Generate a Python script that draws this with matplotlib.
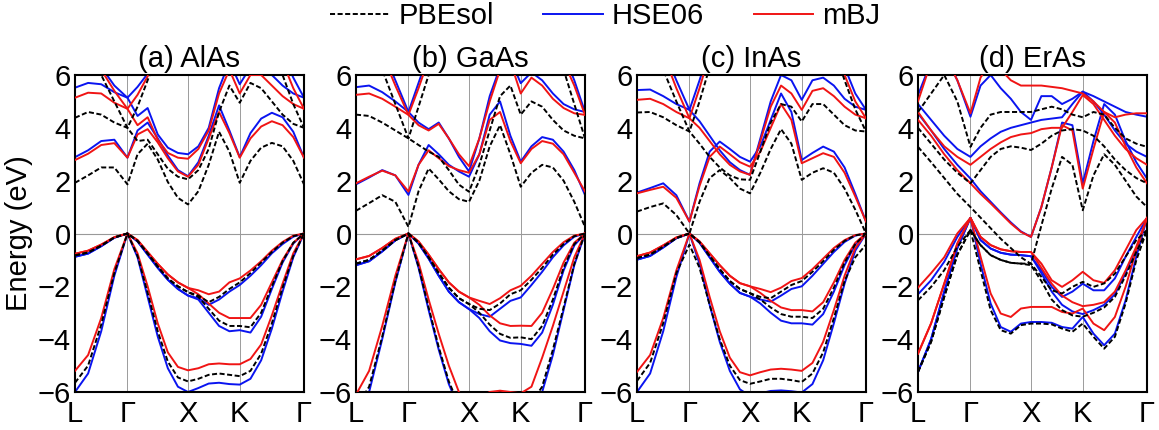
import numpy as np
import matplotlib
matplotlib.use("Agg")
import matplotlib.pyplot as plt

plt.rcParams['font.family'] = ['Liberation Sans', 'DejaVu Sans']

# ---------------- k-path (units of 2pi/a): L - G - X - (W) - K - G ----------------
KNODES = [0.0, 0.866, 1.866, 2.720, 3.781]
KLABELS = ['L', 'Γ', 'X', 'K', 'Γ']
SEG_STEPS = [4, 6, 5, 6]   # sample intervals per segment -> 22 k-points

TITLES = ['(a) AlAs', '(b) GaAs', '(c) InAs', '(d) ErAs']
METHODS = ['PBEsol', 'HSE06', 'mBJ']

# ---------------- band energies (eV), 22 k-points each ----------------
# (a) AlAs
ALAS_PBESOL = [
    [-0.83,-0.72,-0.46,-0.15,0, -0.28,-0.75,-1.25,-1.7,-2.0,-2.22, -2.35,-2.6,-2.4,-2.1,-1.85, -1.5,-1.1,-0.7,-0.35,-0.1,0],
    [-0.83,-0.72,-0.46,-0.15,0, -0.28,-0.75,-1.25,-1.7,-2.0,-2.22, -2.4,-2.85,-3.3,-3.5,-3.5, -3.55,-3.0,-2.0,-1.05,-0.35,0],
    [-5.65,-5.0,-3.45,-1.5,0, -0.85,-2.25,-3.7,-4.85,-5.45,-5.6, -5.5,-5.35,-5.3,-5.35,-5.4, -5.2,-4.55,-3.4,-2.05,-0.85,0],
    [1.92,2.2,2.5,2.5,1.86, 3.0,3.4,2.8,1.95,1.35,1.1, 1.6,2.6,3.85,3.1,1.92, 2.75,3.25,3.43,3.3,2.75,1.86],
    [4.38,4.6,4.5,4.2,4.0, 3.5,3.55,3.0,2.45,2.15,2.05, 2.4,3.2,4.6,5.6,4.95, 5.7,5.5,5.0,4.5,4.15,4.0],
    [8.0,7.2,6.0,5.0,4.0, 4.8,5.8,6.8,7.8,8.5,8.5, 8.5,8.5,8.5,8.5,8.5, 8.5,8.0,7.0,6.0,4.9,4.0],
]
ALAS_HSE06 = [
    [-0.88,-0.76,-0.48,-0.16,0, -0.3,-0.8,-1.3,-1.75,-2.1,-2.35, -2.45,-2.7,-2.5,-2.2,-1.95, -1.6,-1.2,-0.75,-0.4,-0.12,0],
    [-0.88,-0.76,-0.48,-0.16,0, -0.3,-0.8,-1.3,-1.75,-2.1,-2.35, -2.5,-3.0,-3.5,-3.7,-3.66, -3.75,-3.15,-2.1,-1.1,-0.38,0],
    [-6.0,-5.3,-3.7,-1.6,0, -0.9,-2.4,-3.9,-5.1,-5.8,-6.0, -5.85,-5.68,-5.65,-5.7,-5.72, -5.5,-4.8,-3.6,-2.2,-0.9,0],
    [2.89,3.15,3.5,3.55,2.87, 3.9,4.2,3.6,2.95,2.4,2.17, 2.7,3.7,4.85,3.9,2.89, 3.8,4.35,4.57,4.4,3.85,2.87],
    [5.52,5.7,5.65,5.35,5.14, 4.45,4.75,3.75,3.25,3.05,3.0, 3.3,4.0,5.5,6.5,5.65, 6.3,6.3,6.0,5.6,5.3,5.14],
    [8.5,7.6,6.3,5.6,5.14, 5.55,6.05,6.8,7.8,8.5,8.5, 8.5,8.5,8.5,8.5,8.5, 8.5,8.5,7.8,6.8,5.9,5.14],
]
ALAS_MBJ = [
    [-0.77,-0.65,-0.42,-0.14,0, -0.25,-0.7,-1.15,-1.55,-1.85,-2.06, -2.15,-2.3,-2.2,-1.85,-1.7, -1.4,-1.05,-0.65,-0.32,-0.08,0],
    [-0.77,-0.65,-0.42,-0.14,0, -0.25,-0.7,-1.15,-1.55,-1.85,-2.06, -2.3,-2.65,-3.0,-3.2,-3.2, -3.2,-2.7,-1.85,-1.0,-0.35,0],
    [-5.2,-4.6,-3.2,-1.35,0, -0.75,-2.0,-3.4,-4.5,-5.05,-5.18, -5.1,-4.95,-4.92,-4.95,-4.95, -4.75,-4.2,-3.1,-1.9,-0.75,0],
    [2.78,3.02,3.35,3.42,2.87, 3.75,3.95,3.45,2.85,2.35,2.15, 2.6,3.6,4.6,3.8,2.87, 3.6,4.05,4.25,4.1,3.65,2.87],
    [5.14,5.33,5.3,4.95,4.72, 4.1,4.4,3.55,3.05,2.87,2.83, 3.2,3.9,5.3,6.2,5.3, 6.0,6.0,5.6,5.2,4.9,4.72],
    [8.5,7.4,6.2,5.4,4.72, 5.25,5.95,6.8,7.8,8.5,8.5, 8.5,8.5,8.5,8.5,8.5, 8.5,8.5,7.5,6.5,5.5,4.72],
]

# (b) GaAs
GAAS_PBESOL = [
    [-1.14,-1.0,-0.65,-0.25,0, -0.35,-0.9,-1.5,-2.05,-2.45,-2.67, -2.85,-2.9,-2.65,-2.3,-2.15, -1.75,-1.3,-0.8,-0.4,-0.1,0],
    [-1.14,-1.0,-0.65,-0.25,0, -0.35,-0.9,-1.5,-2.05,-2.45,-2.67, -3.0,-3.45,-3.8,-3.95,-3.93, -4.0,-3.5,-2.5,-1.3,-0.4,0],
    [-6.6,-5.8,-3.9,-1.8,0, -1.25,-2.8,-4.3,-5.6,-6.5,-6.8, -6.6,-6.45,-6.45,-6.5,-6.55, -6.4,-5.8,-4.4,-2.8,-1.15,0],
    [0.86,1.15,1.45,1.2,0.25, 1.6,2.46,2.05,1.6,1.3,1.2, 2.0,3.3,4.1,3.0,1.77, 2.3,2.6,2.5,2.0,1.2,0.25],
    [4.5,4.45,4.2,3.9,3.6, 3.35,3.1,2.9,2.4,1.85,1.58, 2.6,3.9,5.2,5.6,4.5, 5.0,4.8,4.3,3.9,3.7,3.6],
    [8.5,7.5,6.2,4.9,3.6, 4.8,6.0,7.2,8.5,8.5,8.5, 8.5,8.5,8.5,8.5,8.5, 8.5,8.5,7.4,6.2,4.9,3.6],
]
GAAS_HSE06 = [
    [-1.2,-1.05,-0.68,-0.26,0, -0.38,-0.95,-1.6,-2.2,-2.6,-2.86, -3.05,-3.15,-2.85,-2.55,-2.42, -1.95,-1.45,-0.9,-0.45,-0.12,0],
    [-1.2,-1.05,-0.68,-0.26,0, -0.38,-0.95,-1.6,-2.2,-2.6,-2.86, -3.2,-3.7,-4.05,-4.15,-4.18, -4.25,-3.75,-2.7,-1.4,-0.45,0],
    [-6.8,-6.0,-4.0,-1.85,0, -1.3,-2.9,-4.4,-5.7,-6.6,-6.9, -6.75,-6.6,-6.6,-6.65,-6.7, -6.5,-6.0,-4.6,-2.9,-1.2,0],
    [1.86,2.12,2.4,2.2,1.46, 2.6,3.35,3.0,2.6,2.35,2.15, 3.0,4.5,5.0,3.7,2.72, 3.3,3.65,3.55,3.1,2.4,1.46],
    [5.54,5.6,5.35,5.0,4.6, 4.2,3.95,4.2,3.6,2.9,2.35, 3.6,5.2,6.3,6.6,5.69, 6.1,5.8,5.3,4.9,4.7,4.6],
    [8.5,8.0,7.0,5.8,4.6, 5.7,6.8,7.8,8.5,8.5,8.5, 8.5,8.5,8.5,8.5,8.5, 8.5,8.5,7.8,6.8,5.8,4.6],
]
GAAS_MBJ = [
    [-0.98,-0.85,-0.55,-0.2,0, -0.3,-0.8,-1.35,-1.85,-2.2,-2.42, -2.55,-2.67,-2.45,-2.15,-1.98, -1.6,-1.15,-0.7,-0.33,-0.08,0],
    [-0.98,-0.85,-0.55,-0.2,0, -0.3,-0.8,-1.35,-1.85,-2.2,-2.42, -2.7,-3.1,-3.4,-3.5,-3.49, -3.5,-3.0,-2.1,-1.1,-0.35,0],
    [-6.1,-5.2,-3.5,-1.6,0, -1.1,-2.5,-3.8,-5.0,-6.0,-6.4, -6.2,-6.0,-5.95,-6.0,-6.05, -5.8,-4.7,-3.5,-2.2,-0.9,0],
    [1.9,2.15,2.38,2.2,1.59, 2.6,3.15,2.85,2.55,2.4,2.3, 3.0,4.3,4.6,3.5,2.66, 3.2,3.5,3.4,3.0,2.3,1.59],
    [5.25,5.3,5.1,4.8,4.49, 4.1,3.9,4.15,3.6,3.0,2.55, 3.6,5.0,6.2,6.5,5.3, 5.9,5.6,5.1,4.75,4.55,4.49],
    [8.5,7.8,6.8,5.6,4.49, 5.5,6.6,7.5,8.5,8.5,8.5, 8.5,8.5,8.5,8.5,8.5, 8.5,8.5,7.5,6.5,5.6,4.49],
]

# (c) InAs
INAS_PBESOL = [
    [-0.93,-0.8,-0.5,-0.17,0, -0.33,-0.85,-1.35,-1.8,-2.1,-2.26, -2.4,-2.45,-2.2,-1.95,-1.8, -1.45,-1.05,-0.62,-0.28,-0.07,0],
    [-0.93,-0.8,-0.5,-0.17,0, -0.33,-0.85,-1.35,-1.8,-2.1,-2.26, -2.5,-2.8,-3.05,-3.15,-3.15, -3.2,-2.85,-2.05,-1.1,-0.4,0],
    [-5.58,-4.9,-3.4,-1.5,-0.42, -1.3,-2.7,-4.0,-5.0,-5.55,-5.69, -5.6,-5.5,-5.5,-5.55,-5.62, -5.3,-4.5,-3.2,-1.8,-0.9,-0.42],
    [0.83,1.0,1.14,0.7,0.0, 1.2,2.1,2.4,2.1,1.7,1.52, 2.3,3.2,3.95,3.4,2.03, 2.3,2.47,2.3,1.7,0.9,0.0],
    [4.58,4.6,4.4,4.1,3.86, 3.4,2.9,2.5,2.2,2.05,2.03, 3.1,4.2,4.9,4.8,4.24, 4.9,4.9,4.5,4.1,3.9,3.86],
    [8.5,7.5,6.2,5.0,3.86, 5.0,6.3,7.5,8.5,8.5,8.5, 8.5,8.5,8.5,8.5,8.5, 8.5,8.5,7.0,5.8,4.7,3.86],
]
INAS_HSE06 = [
    [-0.99,-0.85,-0.53,-0.18,0, -0.35,-0.9,-1.45,-1.9,-2.25,-2.39, -2.5,-2.58,-2.35,-2.1,-2.0, -1.6,-1.15,-0.7,-0.32,-0.08,0],
    [-0.99,-0.85,-0.53,-0.18,0, -0.35,-0.9,-1.45,-1.9,-2.25,-2.39, -2.65,-3.0,-3.3,-3.4,-3.4, -3.45,-3.05,-2.2,-1.2,-0.42,0],
    [-6.0,-5.3,-3.7,-1.65,0, -1.15,-2.7,-4.1,-5.2,-5.9,-6.15, -6.05,-5.96,-5.94,-5.97,-6.02, -5.7,-4.8,-3.4,-1.9,-0.65,0],
    [1.55,1.72,1.9,1.45,0.45, 1.9,3.1,3.48,3.2,2.9,2.72, 3.3,4.3,5.3,4.6,2.78, 3.05,3.29,3.1,2.5,1.5,0.45],
    [5.43,5.45,5.2,4.9,4.68, 4.25,3.7,3.15,2.7,2.4,2.22, 3.6,5.0,6.0,5.8,5.06, 5.8,5.9,5.6,5.1,4.8,4.68],
    [8.5,8.0,7.0,5.8,4.68, 5.8,7.0,8.2,8.5,8.5,8.5, 8.5,8.5,8.5,8.5,8.5, 8.5,8.5,7.5,6.3,5.3,4.68],
]
INAS_MBJ = [
    [-0.86,-0.72,-0.45,-0.15,0, -0.3,-0.75,-1.2,-1.6,-1.88,-2.0, -2.1,-2.22,-2.05,-1.8,-1.69, -1.35,-0.95,-0.55,-0.25,-0.06,0],
    [-0.86,-0.72,-0.45,-0.15,0, -0.3,-0.75,-1.2,-1.6,-1.88,-2.0, -2.25,-2.55,-2.8,-2.9,-2.9, -2.95,-2.6,-1.85,-1.0,-0.35,0],
    [-5.24,-4.6,-3.2,-1.4,0, -1.0,-2.4,-3.7,-4.7,-5.25,-5.37, -5.25,-5.15,-5.12,-5.15,-5.2, -4.9,-4.1,-2.9,-1.6,-0.55,0],
    [1.52,1.65,1.77,1.35,0.45, 1.8,2.9,3.29,3.0,2.7,2.53, 3.1,4.0,4.9,4.3,2.66, 2.85,3.04,2.9,2.3,1.4,0.45],
    [5.06,5.1,4.9,4.6,4.36, 4.0,3.5,3.0,2.6,2.35,2.22, 3.5,4.8,5.6,5.3,4.68, 5.4,5.5,5.2,4.8,4.5,4.36],
    [8.5,7.8,6.8,5.5,4.36, 5.5,6.8,8.0,8.5,8.5,8.5, 8.5,8.5,8.5,8.5,8.5, 8.5,8.5,7.2,6.0,5.0,4.36],
]

# (d) ErAs
ERAS_PBESOL = [
    [-2.53,-2.02,-1.39,-0.5,0.13, -0.44,-0.82,-1.0,-1.11,-1.14,-1.14, -1.64,-2.15,-2.27,-2.02,-1.83, -2.02,-1.89,-1.52,-0.88,-0.25,0.13],
    [-5.24,-4.1,-2.4,-0.8,0.13, -0.44,-0.82,-1.0,-1.11,-1.14,-1.2, -1.8,-2.5,-2.9,-3.1,-3.15, -3.0,-2.8,-2.4,-1.6,-0.7,0.13],
    [-5.24,-4.1,-2.4,-0.8,0.13, -1.39,-2.9,-3.66,-3.79,-3.47,-3.41, -3.41,-3.44,-3.6,-3.72,-3.41, -3.91,-4.36,-3.91,-2.65,-1.01,0.13],
    [3.28,2.7,2.1,1.5,1.0, 0.6,0.2,-0.2,-0.55,-0.9,-1.15, 0.3,1.7,2.9,2.6,0.88, 2.2,3.0,2.6,2.0,1.4,1.0],
    [4.0,3.4,2.8,2.3,1.9, 2.4,2.9,3.2,3.3,3.25,3.16, 3.4,3.7,3.9,3.95,3.9, 3.7,3.3,2.8,2.4,2.1,1.9],
    [4.6,5.3,6.0,5.0,3.28, 4.0,4.5,4.6,4.6,4.6,4.6, 4.7,4.8,4.7,4.5,4.4, 4.6,4.5,4.0,3.6,3.4,3.28],
]
ERAS_HSE06 = [
    [-2.3,-1.77,-1.07,-0.13,0.59, -0.25,-0.57,-0.73,-0.8,-0.82,-0.86, -1.39,-2.02,-2.4,-2.2,-1.9, -2.15,-2.15,-1.7,-0.88,-0.13,0.59],
    [-5.24,-4.0,-2.2,-0.55,0.59, -0.25,-0.57,-0.73,-0.8,-0.82,-0.86, -1.5,-2.2,-2.7,-2.95,-3.05, -2.9,-2.7,-2.3,-1.5,-0.6,0.59],
    [-5.24,-4.0,-2.2,-0.55,0.59, -1.14,-2.65,-3.54,-3.72,-3.41,-3.35, -3.35,-3.38,-3.54,-3.6,-3.16, -3.79,-4.23,-3.79,-2.53,-0.88,0.59],
    [4.55,3.9,3.2,2.6,2.08, 1.6,1.2,0.8,0.42,0.08,-0.13, 1.0,2.5,4.2,4.1,1.9, 3.5,4.9,4.5,3.5,2.7,2.08],
    [4.9,4.3,3.7,3.2,2.9, 3.3,3.6,3.85,4.0,4.1,4.2, 4.3,4.35,4.4,4.9,5.37, 5.0,4.5,3.9,3.4,3.1,2.9],
    [5.24,6.5,6.8,5.8,4.42, 5.6,6.0,5.5,5.1,4.6,4.3, 5.2,5.2,4.9,5.1,5.37, 5.2,5.0,4.8,4.6,4.5,4.42],
]
ERAS_MBJ = [
    [-2.05,-1.5,-0.9,0.0,0.59, -0.13,-0.44,-0.6,-0.67,-0.7,-0.7, -1.14,-1.77,-2.02,-1.77,-1.45, -1.77,-1.87,-1.39,-0.63,0.13,0.59],
    [-4.55,-3.4,-1.9,-0.38,0.59, -0.13,-0.44,-0.6,-0.67,-0.7,-0.7, -1.3,-1.9,-2.35,-2.6,-2.75, -2.7,-2.6,-2.2,-1.4,-0.5,0.59],
    [-4.55,-3.4,-1.9,-0.38,0.59, -0.88,-2.27,-3.03,-3.16,-2.84,-2.78, -2.78,-2.78,-2.97,-3.03,-2.84, -3.41,-3.66,-3.16,-2.02,-0.63,0.59],
    [4.3,3.7,3.0,2.4,1.9, 1.5,1.14,0.76,0.38,0.06,-0.13, 1.0,2.5,4.1,3.9,1.7, 3.2,4.6,4.2,3.3,2.5,1.9],
    [4.6,3.9,3.3,2.9,2.6, 2.9,3.2,3.45,3.65,3.75,3.8, 3.95,4.0,4.0,4.6,5.24, 4.9,4.3,3.7,3.2,2.85,2.6],
    [5.0,6.5,6.8,5.8,4.55, 5.9,6.5,6.2,5.8,5.6,5.6, 5.6,5.55,5.5,5.4,5.3, 5.0,4.6,4.4,4.5,4.55,4.55],
]

PANELS = [
    (ALAS_PBESOL, ALAS_HSE06, ALAS_MBJ),
    (GAAS_PBESOL, GAAS_HSE06, GAAS_MBJ),
    (INAS_PBESOL, INAS_HSE06, INAS_MBJ),
    (ERAS_PBESOL, ERAS_HSE06, ERAS_MBJ),
]

YTICKS = [-6, -4, -2, 0, 2, 4, 6]

# ---------------- k-point grid ----------------
kpts = [KNODES[0]]
for i, n in enumerate(SEG_STEPS):
    seg = np.linspace(KNODES[i], KNODES[i + 1], n + 1)[1:]
    kpts.extend(seg.tolist())
kpts = np.array(kpts)

STYLE = {
    'PBEsol': dict(color='black', lw=1.4, ls=(0, (2.6, 1.3)), zorder=4),
    'HSE06': dict(color='#0a14f0', lw=1.4, ls='-', zorder=2),
    'mBJ': dict(color='#f01414', lw=1.4, ls='-', zorder=3),
}

FS = 21
fig = plt.figure(figsize=(11.59, 4.30), dpi=100)
lefts = [75, 356, 637, 918]
W, H = 1159.0, 430.0
ax_w = 229 / W
ax_b = 1 - 392 / H
ax_h = (392 - 75) / H

handles = {}
for p, left in enumerate(lefts):
    ax = fig.add_axes([left / W, ax_b, ax_w, ax_h])
    for xn in KNODES[1:-1]:
        ax.axvline(xn, color='0.55', lw=0.6, zorder=1)
    ax.axhline(0, color='0.6', lw=0.8, zorder=1)
    for m, bands in zip(METHODS, PANELS[p]):
        for b in bands:
            ln, = ax.plot(kpts, b, **STYLE[m])
        handles[m] = ln
    ax.set_xlim(KNODES[0], KNODES[-1])
    ax.set_ylim(-6, 6)
    ax.set_xticks(KNODES)
    ax.set_xticklabels(KLABELS, fontsize=FS)
    ax.set_yticks(YTICKS)
    ax.set_yticklabels([str(v) if v >= 0 else '\u2212' + str(-v) for v in YTICKS], fontsize=FS)
    ax.tick_params(axis='y', length=0, pad=3)
    ax.tick_params(axis='x', length=0, pad=6)
    for s in ax.spines.values():
        s.set_linewidth(1.5)
    ax.set_title(TITLES[p], fontsize=FS, pad=6)

fig.text(19 / W, 1 - 233 / H, 'Energy (eV)', rotation=90, ha='center', va='center', fontsize=FS)

fig.legend([handles[m] for m in METHODS], METHODS, loc='center', ncol=3,
           bbox_to_anchor=(605 / W, 1 - 16 / H), frameon=False, fontsize=FS,
           handlelength=2.05, handletextpad=0.3, columnspacing=1.7,
           borderpad=0, borderaxespad=0)

fig.savefig('out.png', dpi=100)
